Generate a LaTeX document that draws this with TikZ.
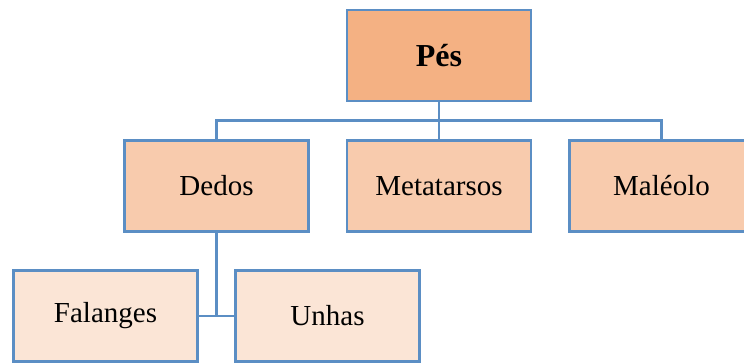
\documentclass[tikz,border=0pt]{standalone}
\usepackage{fontspec}
\setmainfont{Liberation Serif}
\definecolor{edgeblue}{HTML}{5B8EC4}
\definecolor{lvlone}{HTML}{F4B183}
\definecolor{lvltwo}{HTML}{F8CBAD}
\definecolor{lvlthree}{HTML}{FBE5D6}
\tikzset{
  box/.style={draw=edgeblue, line width=2.6pt, minimum width=184pt, minimum height=91pt,
              inner sep=0pt, font=\fontsize{29}{32}\selectfont},
  topbox/.style={box, fill=lvlone, font=\fontsize{32}{36}\selectfont\bfseries},
  midbox/.style={box, fill=lvltwo},
  lowbox/.style={box, fill=lvlthree},
  link/.style={draw=edgeblue, line width=2.6pt}
}
\begin{document}
\begin{tikzpicture}[x=1pt, y=-1pt]
  \useasboundingbox (0,0) rectangle (744,362);
  \clip (0,0) rectangle (744,362);
  % tree nodes
  \node[topbox] (pes) at (439,55.5) {Pés};
  \node[midbox] (dedos) at (216.5,186) {Dedos};
  \node[midbox] (meta) at (439,186) {Metatarsos};
  \node[midbox] (male) at (661.5,186) {Maléolo};
  \node[lowbox] (fal) at (105.5,316) {Falanges};
  \node[lowbox] (unh) at (327.5,316) {Unhas};
  % bus from the root to the second level
  \coordinate (bus) at (439,120.5);
  \draw[link] (pes.south) -- (bus);
  \draw[link] (dedos.north) |- (bus) -| (male.north);
  \draw[link] (bus) -- (meta.north);
  % connector below Dedos
  \coordinate (split) at (216.5,316);
  \draw[link] (dedos.south) -- (split);
  \draw[link] (fal.east) -- (unh.west);
\end{tikzpicture}
\end{document}
